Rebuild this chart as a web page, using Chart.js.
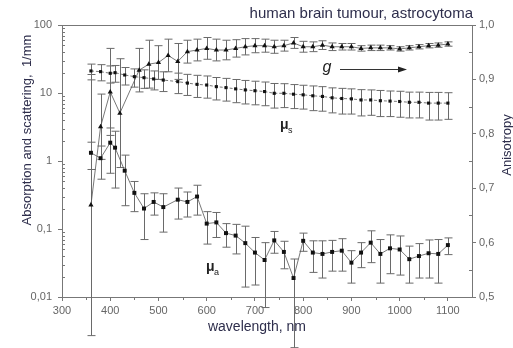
<!DOCTYPE html>
<html>
<head>
<meta charset="utf-8">
<script src="https://cdn.jsdelivr.net/npm/chart.js@4/dist/chart.umd.min.js"></script>
<style>
  html, body { margin: 0; padding: 0; background: #fff; }
  #wrap { width: 513px; height: 348px; }
</style>
</head>
<body>
<div id="wrap"><canvas id="chart" width="513" height="348"></canvas></div>
<script>
// absorption coefficient mu_a, 1/mm
const muAWl = [360, 380, 400, 410, 430, 450, 470, 490, 510, 540, 560, 580, 600, 620, 640, 660, 680, 700, 720, 740,
  760, 780, 800, 820, 840, 860, 880, 900, 920, 940, 960, 980, 1000, 1020, 1040, 1060, 1080, 1100];
const muA = [1.32, 1.1, 1.86, 1.57, 0.72, 0.34, 0.20, 0.25, 0.21, 0.27, 0.25, 0.30, 0.12, 0.125, 0.087, 0.080, 0.062, 0.045, 0.035, 0.068,
  0.046, 0.019, 0.067, 0.045, 0.043, 0.046, 0.048, 0.032, 0.045, 0.063, 0.043, 0.052, 0.050, 0.036, 0.040, 0.044, 0.043, 0.058];
const muAErr = [0.57, 0.56, 1.2, 1.17, 0.5, 0.16, 0.13, 0.09, 0.12, 0.13, 0.1, 0.14, 0.06, 0.05, 0.033, 0.037, 0.048, 0.03, 0.028, 0.024,
  0.02, 0.0172, 0.02, 0.022, 0.024, 0.022, 0.024, 0.016, 0.018, 0.031, 0.027, 0.03, 0.029, 0.02, 0.021, 0.025, 0.027, 0.016];

// scattering coefficient mu_s, 1/mm
const muSWl = muAWl;
const muS = [21.1, 20.6, 19.5, 19.9, 18.4, 17.4, 16.8, 16.1, 15.5, 14.7, 14.0, 13.4, 13.1, 12.4, 12.0, 11.5, 11.1, 10.8, 10.5, 9.9,
  9.9, 9.6, 9.4, 9.1, 8.9, 8.5, 8.3, 8.2, 7.9, 7.9, 7.7, 7.6, 7.5, 7.3, 7.3, 7.1, 7.1, 7.1];
const muSErr = [5.5, 5.5, 5.5, 5.5, 5.3, 5.2, 5.1, 5.0, 5.0, 4.9, 4.8, 4.8, 4.7, 4.5, 4.4, 4.3, 4.2, 4.1, 4.0, 3.9,
  3.8, 3.7, 3.6, 3.6, 3.5, 3.4, 3.4, 3.3, 3.3, 3.2, 3.2, 3.1, 3.1, 3.0, 3.0, 3.1, 3.1, 3.0];

// anisotropy g (right axis)
const gWl = [360, 380, 400, 420, 460, 480, 500, 520, 540, 560, 580, 600, 620, 640, 660, 680, 700, 720, 740,
  760, 780, 800, 820, 840, 860, 880, 900, 920, 940, 960, 980, 1000, 1020, 1040, 1060, 1080, 1100];
const gVal = [0.669, 0.813, 0.877, 0.838, 0.917, 0.928, 0.931, 0.944, 0.933, 0.951, 0.954, 0.957, 0.954, 0.954, 0.957, 0.960, 0.962, 0.962, 0.960,
  0.962, 0.967, 0.960, 0.960, 0.963, 0.960, 0.960, 0.960, 0.957, 0.958, 0.958, 0.958, 0.956, 0.958, 0.960, 0.962, 0.963, 0.965];
const gErr = [0.24, 0.06, 0.08, 0.1, 0.04, 0.044, 0.031, 0.03, 0.033, 0.021, 0.02, 0.02, 0.02, 0.018, 0.016, 0.015, 0.013, 0.012, 0.012,
  0.01, 0.01, 0.01, 0.009, 0.008, 0.007, 0.006, 0.006, 0.005, 0.005, 0.005, 0.004, 0.004, 0.004, 0.004, 0.004, 0.004, 0.004];

const xTicks = [300, 400, 500, 600, 700, 800, 900, 1000, 1100];
const yTicks = [0.01, 0.1, 1, 10, 100];
const y2Ticks = [0.5, 0.6, 0.7, 0.8, 0.9, 1.0];

const FONT = 'Liberation Sans, Arial, sans-serif';
const AXIS = '#777';
const TICK_TXT = '#666';
const TITLE_TXT = '#2e2e4c';

const pts = (xs, ys) => xs.map((x, i) => ({ x, y: ys[i] }));
const errs = [muAErr, muSErr, gErr];

const decor = {
  id: 'decor',
  beforeDatasetsDraw(chart) {
    const ctx = chart.ctx;
    ctx.save();
    ctx.strokeStyle = '#6a6a6a';
    ctx.lineWidth = 1;
    chart.data.datasets.forEach((ds, i) => {
      const meta = chart.getDatasetMeta(i);
      const sc = chart.scales[ds.yAxisID];
      const err = errs[i];
      ds.data.forEach((p, j) => {
        const x = Math.round(meta.data[j].x) + 0.5;
        let lo = p.y - err[j];
        if (sc.type === 'logarithmic' && lo <= 0) lo = 0.001;
        const yt = sc.getPixelForValue(p.y + err[j]);
        const yb = sc.getPixelForValue(lo);
        ctx.beginPath();
        ctx.moveTo(x, yt); ctx.lineTo(x, yb);
        ctx.moveTo(x - 4, yt); ctx.lineTo(x + 4, yt);
        ctx.moveTo(x - 4, yb); ctx.lineTo(x + 4, yb);
        ctx.stroke();
      });
    });
    ctx.restore();
  },
  afterDraw(chart) {
    const ctx = chart.ctx;
    const a = chart.chartArea;
    const x = chart.scales.x, y = chart.scales.y, y2 = chart.scales.y2;
    ctx.save();
    ctx.strokeStyle = AXIS;
    ctx.lineWidth = 1;
    ctx.beginPath();
    ctx.moveTo(a.left, a.top + 0.5); ctx.lineTo(a.right, a.top + 0.5);
    // minor ticks
    for (let d = 0.01; d < 50; d *= 10) {
      for (let m = 2; m <= 9; m++) {
        const py = Math.round(y.getPixelForValue(d * m)) + 0.5;
        ctx.moveTo(a.left, py); ctx.lineTo(a.left + 3, py);
      }
    }
    for (let v = 0.55; v < 1; v += 0.1) {
      const py = Math.round(y2.getPixelForValue(v)) + 0.5;
      ctx.moveTo(a.right - 3, py); ctx.lineTo(a.right, py);
    }
    for (let v = 350; v < 1150; v += 100) {
      const px = Math.round(x.getPixelForValue(v)) + 0.5;
      ctx.moveTo(px, a.bottom); ctx.lineTo(px, a.bottom + 3);
    }
    ctx.stroke();

    // titles
    ctx.fillStyle = TITLE_TXT;
    ctx.font = '15px ' + FONT;
    ctx.textAlign = 'right';
    ctx.textBaseline = 'alphabetic';
    ctx.fillText('human brain tumour, astrocytoma', 473, 18);

    ctx.font = '14px ' + FONT;
    ctx.textAlign = 'center';
    ctx.textBaseline = 'middle';
    ctx.fillText('wavelength, nm', 257, 327);

    ctx.save();
    ctx.translate(27, 130);
    ctx.rotate(-Math.PI / 2);
    ctx.font = '13px ' + FONT;
    ctx.fillText('Absorption and scattering,  1/mm', 0, 0);
    ctx.restore();

    ctx.save();
    ctx.translate(507, 145);
    ctx.rotate(-Math.PI / 2);
    ctx.font = '13px ' + FONT;
    ctx.fillText('Anisotropy', 0, 0);
    ctx.restore();

    // series labels
    ctx.fillStyle = '#222';
    ctx.font = 'italic 16px ' + FONT;
    ctx.textAlign = 'center';
    ctx.fillText('g', 327, 68);
    ctx.strokeStyle = '#333';
    ctx.beginPath();
    ctx.moveTo(340, 69.5); ctx.lineTo(400, 69.5);
    ctx.stroke();
    ctx.beginPath();
    ctx.moveTo(407, 69.5); ctx.lineTo(398, 66.5); ctx.lineTo(398, 72.5);
    ctx.closePath();
    ctx.fill();

    ctx.font = 'bold 14px ' + FONT;
    ctx.textAlign = 'left';
    ctx.fillText('\u03bc', 280, 125);
    ctx.font = '9px ' + FONT;
    ctx.fillText('s', 288, 131);
    ctx.font = 'bold 14px ' + FONT;
    ctx.fillText('\u03bc', 206, 267);
    ctx.font = '9px ' + FONT;
    ctx.fillText('a', 214, 273);
    ctx.restore();
  }
};

const axisGrid = { display: true, drawOnChartArea: false, drawTicks: true, tickLength: 4, color: AXIS, lineWidth: 1 };
const axisBorder = { display: true, color: AXIS, width: 1 };
const tickFont = { family: FONT, size: 11 };

new Chart(document.getElementById('chart'), {
  type: 'line',
  data: {
    datasets: [
      {
        label: 'mu_a', data: pts(muAWl, muA), yAxisID: 'y',
        borderColor: '#555', borderWidth: 0.8, pointStyle: 'rect', pointRadius: 2.8,
        pointBackgroundColor: '#111', pointBorderColor: '#111', pointBorderWidth: 0,
      },
      {
        label: 'mu_s', data: pts(muSWl, muS), yAxisID: 'y',
        borderColor: '#555', borderWidth: 0.8, borderDash: [3, 2], pointStyle: 'rect', pointRadius: 2.2,
        pointBackgroundColor: '#111', pointBorderColor: '#111', pointBorderWidth: 0,
      },
      {
        label: 'g', data: pts(gWl, gVal), yAxisID: 'y2',
        borderColor: '#555', borderWidth: 0.8, pointStyle: 'triangle', pointRadius: 3,
        pointBackgroundColor: '#111', pointBorderColor: '#111', pointBorderWidth: 0,
      },
    ],
  },
  options: {
    responsive: false,
    animation: false,
    devicePixelRatio: 1,
    layout: { padding: { top: 25, left: 0, right: 0, bottom: 0 } },
    plugins: { legend: { display: false }, tooltip: { enabled: false }, title: { display: false } },
    scales: {
      x: {
        type: 'linear', position: 'bottom', min: 300, max: 1150,
        afterBuildTicks: (s) => { s.ticks = xTicks.map((v) => ({ value: v })); },
        afterFit: (s) => { s.height = 51; },
        ticks: { color: TICK_TXT, font: tickFont, padding: 3, maxRotation: 0, callback: (v) => String(v) },
        grid: axisGrid, border: axisBorder,
      },
      y: {
        type: 'logarithmic', position: 'left', min: 0.01, max: 100,
        afterBuildTicks: (s) => { s.ticks = yTicks.map((v) => ({ value: v })); },
        afterFit: (s) => { s.width = 62; },
        ticks: { color: TICK_TXT, font: tickFont, padding: 6, callback: (v) => String(v).replace('.', ',') },
        grid: axisGrid, border: axisBorder,
      },
      y2: {
        type: 'linear', position: 'right', min: 0.5, max: 1.0,
        afterBuildTicks: (s) => { s.ticks = y2Ticks.map((v) => ({ value: v })); },
        afterFit: (s) => { s.width = 41; },
        ticks: { color: TICK_TXT, font: tickFont, padding: 3, callback: (v) => v.toFixed(1).replace('.', ',') },
        grid: axisGrid, border: axisBorder,
      },
    },
  },
  plugins: [decor],
});
</script>
</body>
</html>
